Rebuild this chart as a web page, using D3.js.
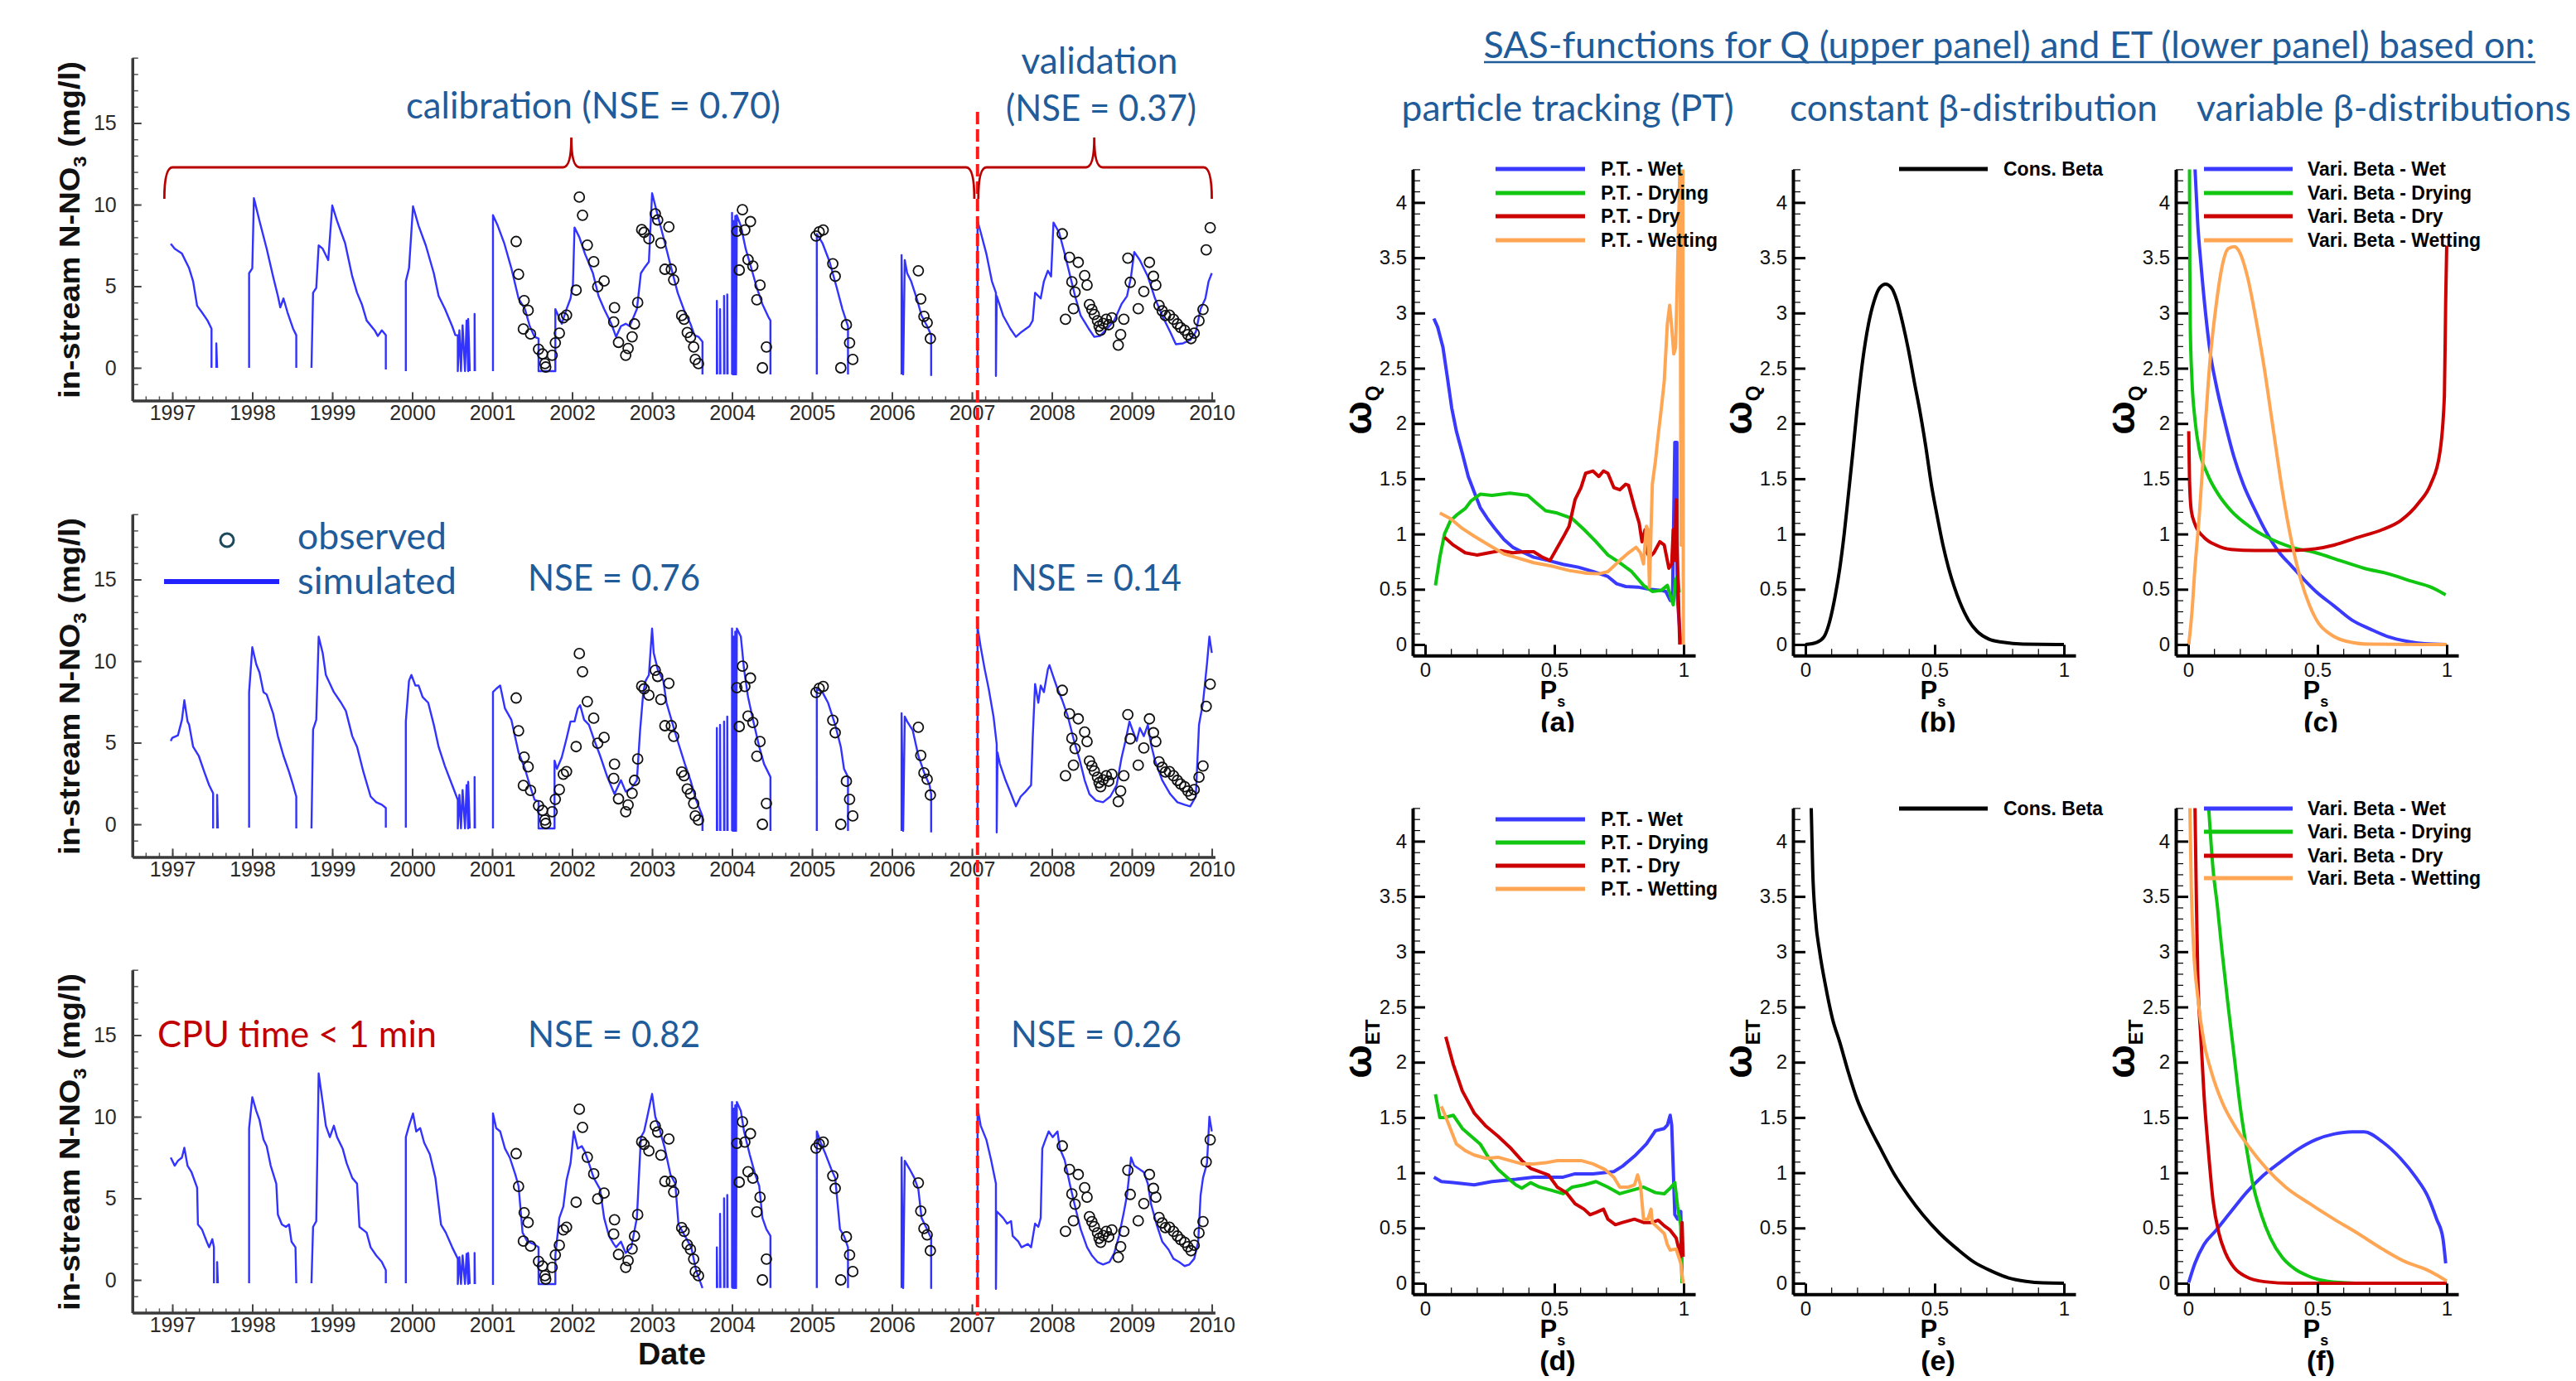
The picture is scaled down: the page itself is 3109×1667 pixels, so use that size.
<!DOCTYPE html>
<html><head><meta charset="utf-8">
<script src="https://cdn.jsdelivr.net/npm/d3@7/dist/d3.min.js"></script>
<style>
html,body{margin:0;padding:0;background:#fff;}
svg{display:block;}
</style></head>
<body>
<svg id="fig" width="3109" height="1667" xmlns="http://www.w3.org/2000/svg"></svg>
<script>
// ---------- Nitrate time series (left column) ----------
const yearTicks = d3.range(1997, 2011);
const concTicks = [0, 5, 10, 15];

// observed in-stream N-NO3 (mg/l): [decimal year, value]
const observed = [
 [2001.30,7.74],[2001.33,5.73],[2001.40,4.12],[2001.45,3.52],[2001.39,2.38],[2001.48,2.07],[2001.58,1.14],[2001.63,0.85],
 [2001.66,0.26],[2001.67,0.05],[2001.75,0.77],[2001.79,1.53],[2001.84,2.13],[2001.89,3.06],[2001.93,3.23],[2002.05,4.76],
 [2002.09,10.46],[2002.13,9.35],[2002.19,7.52],[2002.27,6.50],[2002.32,4.97],[2002.40,5.32],[2002.53,3.69],[2002.52,2.81],
 [2002.58,1.56],[2002.67,0.77],[2002.70,1.19],[2002.75,1.90],[2002.78,2.69],[2002.82,4.00],[2002.87,8.47],[2002.90,8.30],
 [2002.96,7.91],[2003.04,9.44],[2003.07,9.06],[2003.11,7.65],[2003.21,8.64],[2003.16,6.04],[2003.24,6.04],[2003.27,5.39],
 [2003.37,3.20],[2003.40,2.98],[2003.44,2.16],[2003.48,1.87],[2003.52,1.28],[2003.54,0.51],[2003.58,0.26],
 [2004.06,8.37],[2004.09,5.99],[2004.13,9.69],[2004.16,8.45],[2004.23,8.96],[2004.20,6.63],[2004.26,6.24],[2004.35,5.07],
 [2004.31,4.17],[2004.43,1.28],[2004.38,0.0],
 [2005.05,8.08],[2005.09,8.33],[2005.14,8.45],[2005.26,6.38],[2005.29,5.61],[2005.43,2.64],[2005.47,1.53],[2005.51,0.51],[2005.36,0.0],
 [2006.33,5.95],[2006.36,4.22],[2006.40,3.15],[2006.44,2.76],[2006.48,1.79],
 [2008.13,8.21],[2008.17,2.98],[2008.22,6.77],[2008.25,5.27],[2008.29,4.64],[2008.27,3.62],[2008.33,6.46],[2008.41,5.65],
 [2008.44,5.07],[2008.47,3.88],[2008.50,3.57],[2008.53,3.27],[2008.57,2.89],[2008.59,2.55],[2008.61,2.30],[2008.64,2.72],
 [2008.68,2.98],[2008.71,2.64],[2008.75,3.06],[2008.83,1.39],[2008.86,2.04],[2008.90,2.98],[2008.95,6.72],[2008.98,5.24],
 [2009.08,3.62],[2009.15,4.68],[2009.22,6.46],[2009.27,5.61],[2009.30,5.07],[2009.34,3.83],[2009.38,3.49],[2009.42,3.20],
 [2009.47,3.23],[2009.52,2.98],[2009.57,2.69],[2009.61,2.47],[2009.66,2.30],[2009.70,2.04],[2009.74,1.79],[2009.78,2.13],
 [2009.84,2.89],[2009.89,3.57],[2009.93,7.23],[2009.98,8.59]
];

// simulated series, null marks a gap (dry stream)
const simTop = [
 [1996.98,7.6],[1997.03,7.3],[1997.12,7.0],[1997.21,6.1],[1997.26,5.3],[1997.31,3.8],[1997.37,3.4],[1997.44,2.9],[1997.49,2.4],[1997.49,0],null,
 [1997.55,0],[1997.55,1.5],[1997.56,0],null,
 [1997.96,0],[1997.96,5.8],[1998.00,6.1],[1998.02,10.4],[1998.09,9.0],[1998.18,7.3],[1998.26,5.6],[1998.32,4.4],[1998.35,3.7],[1998.39,4.25],[1998.44,3.4],[1998.51,2.4],[1998.55,2.0],[1998.55,0],null,
 [1998.74,0],[1998.76,4.6],[1998.80,4.9],[1998.83,7.5],[1998.88,7.3],[1998.95,6.6],[1999.00,9.95],[1999.06,9.0],[1999.16,7.65],[1999.25,5.6],[1999.31,4.6],[1999.37,3.9],[1999.43,2.9],[1999.53,2.3],[1999.57,1.95],[1999.62,2.3],[1999.67,2.0],[1999.67,-0.1],null,
 [1999.92,-0.2],[1999.92,5.3],[1999.96,6.1],[2000.01,9.9],[2000.08,8.7],[2000.17,7.5],[2000.27,5.8],[2000.33,4.4],[2000.41,3.6],[2000.50,2.55],[2000.54,2.0],[2000.57,2.0],[2000.57,-0.2],[2000.59,2.3],[2000.61,-0.2],[2000.63,2.6],[2000.66,-0.2],[2000.68,2.9],[2000.70,-0.2],[2000.70,3.0],[2000.72,-0.2],null,
 [2000.78,-0.2],[2000.78,3.3],[2000.785,-0.2],null,
 [2001.01,-0.2],[2001.01,9.35],[2001.07,8.7],[2001.15,7.65],[2001.24,6.1],[2001.33,4.25],[2001.41,3.6],[2001.47,2.55],[2001.53,1.9],[2001.58,1.8],[2001.58,-0.2],[2001.79,-0.2],[2001.79,3.6],[2001.87,2.7],[2001.93,3.6],[2001.98,4.25],[2002.01,5.1],[2002.03,8.6],[2002.09,8.0],[2002.16,7.0],[2002.26,5.8],[2002.33,4.4],[2002.40,3.6],[2002.49,2.7],[2002.55,1.9],[2002.61,2.55],[2002.67,2.7],[2002.72,2.55],[2002.81,3.6],[2002.86,5.8],[2002.90,6.1],[2002.96,6.5],[2003.00,10.7],[2003.07,9.35],[2003.16,7.65],[2003.24,6.1],[2003.32,4.6],[2003.41,3.4],[2003.48,2.7],[2003.53,2.0],[2003.58,1.9],[2003.63,1.6],[2003.63,-0.4],null,
 [2003.81,-0.4],[2003.81,4.1],[2003.815,-0.4],null,[2003.85,-0.4],[2003.85,3.6],[2003.855,-0.4],null,[2003.90,-0.4],[2003.90,4.4],[2003.905,-0.4],null,[2003.94,-0.4],[2003.94,4.5],[2003.945,-0.4],null,
 [2004.00,-0.4],[2004.00,9.5],[2004.01,-0.4],[2004.02,9.0],[2004.03,-0.4],[2004.04,9.3],[2004.05,-0.4],[2004.06,9.35],[2004.11,8.7],[2004.17,7.3],[2004.25,5.95],[2004.31,4.9],[2004.38,3.9],[2004.46,3.06],[2004.48,2.9],[2004.48,-0.4],null,
 [2005.06,-0.4],[2005.06,8.2],[2005.13,7.65],[2005.22,6.5],[2005.31,4.9],[2005.38,3.6],[2005.45,2.55],[2005.45,-0.4],null,
 [2006.12,-0.4],[2006.12,6.9],[2006.14,-0.4],[2006.16,6.6],[2006.19,5.8],[2006.24,5.3],[2006.31,4.25],[2006.37,3.2],[2006.44,2.55],[2006.49,2.0],[2006.49,-0.5],null,
 [2007.07,-0.5],[2007.07,9.0],[2007.11,8.3],[2007.18,7.0],[2007.25,5.3],[2007.30,4.6],[2007.30,-0.5],[2007.31,4.4],[2007.39,3.2],[2007.48,2.4],[2007.55,1.9],[2007.62,2.2],[2007.72,2.55],[2007.76,2.9],[2007.79,4.6],[2007.86,4.25],[2007.90,5.3],[2007.95,5.95],[2007.99,5.6],[2008.02,8.9],[2008.09,8.3],[2008.16,7.0],[2008.23,5.6],[2008.29,4.4],[2008.36,3.2],[2008.46,2.4],[2008.53,1.9],[2008.60,1.95],[2008.69,2.4],[2008.78,2.9],[2008.87,3.9],[2008.94,4.4],[2008.99,5.6],[2009.03,7.1],[2009.10,6.6],[2009.20,5.6],[2009.29,4.25],[2009.38,3.2],[2009.48,2.2],[2009.55,1.45],[2009.64,1.5],[2009.73,1.7],[2009.80,2.2],[2009.86,3.6],[2009.92,4.25],[2009.96,5.3],[2010.00,5.8]
];

const simMid = [
 [1996.98,5.1],[1997.00,5.3],[1997.07,5.45],[1997.12,6.4],[1997.15,7.6],[1997.19,6.3],[1997.21,6.1],[1997.26,4.75],[1997.33,4.2],[1997.40,3.2],[1997.46,2.4],[1997.51,1.9],[1997.51,-0.25],null,
 [1997.56,-0.25],[1997.56,1.8],[1997.57,-0.25],null,
 [1997.96,-0.2],[1997.96,8.1],[1998.00,10.85],[1998.05,9.8],[1998.09,9.3],[1998.14,8.1],[1998.18,7.95],[1998.26,6.8],[1998.32,5.4],[1998.39,4.2],[1998.46,3.2],[1998.51,2.4],[1998.55,1.7],[1998.55,-0.25],null,
 [1998.74,-0.25],[1998.76,5.8],[1998.80,6.4],[1998.83,11.5],[1998.88,10.5],[1998.92,9.15],[1999.02,8.1],[1999.11,7.45],[1999.17,6.95],[1999.25,5.4],[1999.31,4.75],[1999.39,3.2],[1999.48,1.7],[1999.55,1.35],[1999.62,1.2],[1999.67,1.0],[1999.67,-0.2],null,
 [1999.92,-0.2],[1999.92,6.3],[1999.96,8.8],[1999.99,9.15],[2000.04,8.5],[2000.08,8.5],[2000.13,7.8],[2000.20,7.45],[2000.27,6.1],[2000.33,4.75],[2000.41,3.55],[2000.50,2.4],[2000.57,1.5],[2000.57,-0.25],[2000.59,1.8],[2000.61,-0.25],[2000.63,2.1],[2000.66,-0.25],[2000.68,2.4],[2000.70,-0.25],[2000.70,2.6],[2000.72,-0.25],null,
 [2000.78,-0.25],[2000.78,2.9],[2000.785,-0.25],null,
 [2001.01,-0.25],[2001.01,8.1],[2001.05,8.3],[2001.10,8.5],[2001.16,7.1],[2001.24,6.4],[2001.33,4.4],[2001.41,3.4],[2001.47,2.4],[2001.53,1.5],[2001.58,1.4],[2001.58,-0.25],[2001.78,-0.25],[2001.78,3.9],[2001.81,3.4],[2001.87,4.1],[2001.93,5.25],[2001.98,6.3],[2002.03,6.3],[2002.07,7.1],[2002.10,7.3],[2002.15,6.4],[2002.21,6.1],[2002.27,5.25],[2002.35,4.2],[2002.44,2.9],[2002.53,1.85],[2002.61,2.7],[2002.67,2.0],[2002.74,2.2],[2002.81,2.7],[2002.85,5.75],[2002.89,8.1],[2002.92,8.8],[2002.96,9.15],[2003.00,12.0],[2003.02,10.5],[2003.07,9.5],[2003.14,8.8],[2003.18,7.45],[2003.26,6.1],[2003.32,5.1],[2003.41,3.7],[2003.48,2.7],[2003.55,1.5],[2003.63,0.5],[2003.63,-0.4],null,
 [2003.81,-0.4],[2003.81,5.9],[2003.815,-0.4],null,[2003.85,-0.4],[2003.85,6.1],[2003.855,-0.4],null,[2003.90,-0.4],[2003.90,6.3],[2003.905,-0.4],null,[2003.94,-0.4],[2003.94,6.6],[2003.945,-0.4],null,
 [2004.00,-0.4],[2004.00,12.0],[2004.01,-0.4],[2004.02,11.5],[2004.03,-0.4],[2004.04,11.8],[2004.05,-0.4],[2004.06,12.0],[2004.11,11.5],[2004.15,9.5],[2004.20,7.8],[2004.26,6.45],[2004.34,4.75],[2004.40,3.7],[2004.48,2.9],[2004.48,-0.4],null,
 [2005.06,-0.4],[2005.06,8.3],[2005.13,8.1],[2005.20,7.45],[2005.29,6.1],[2005.36,4.75],[2005.40,3.4],[2005.45,2.9],[2005.45,-0.4],null,
 [2006.12,-0.4],[2006.12,6.8],[2006.14,-0.4],[2006.16,6.6],[2006.19,6.3],[2006.26,5.75],[2006.33,4.2],[2006.40,3.2],[2006.47,2.4],[2006.49,1.85],[2006.49,-0.5],null,
 [2007.07,-0.5],[2007.07,12.1],[2007.11,10.85],[2007.16,9.5],[2007.21,8.3],[2007.27,6.6],[2007.31,4.9],[2007.31,-0.5],[2007.32,4.4],[2007.35,3.7],[2007.42,2.7],[2007.49,1.85],[2007.55,1.1],[2007.61,1.7],[2007.67,2.0],[2007.74,2.4],[2007.76,5.25],[2007.79,8.6],[2007.83,7.45],[2007.86,8.5],[2007.90,8.1],[2007.95,9.5],[2007.97,9.75],[2008.01,9.15],[2008.07,8.3],[2008.13,7.6],[2008.20,6.6],[2008.27,5.25],[2008.35,3.9],[2008.41,2.7],[2008.47,1.85],[2008.55,1.45],[2008.64,1.35],[2008.73,1.7],[2008.81,2.4],[2008.87,4.05],[2008.92,5.1],[2008.97,6.3],[2009.01,5.75],[2009.06,5.1],[2009.10,5.9],[2009.15,5.4],[2009.20,6.1],[2009.24,4.9],[2009.29,3.9],[2009.38,2.7],[2009.48,1.85],[2009.57,1.35],[2009.66,1.2],[2009.73,1.1],[2009.80,1.7],[2009.84,6.1],[2009.89,7.45],[2009.94,9.85],[2009.97,11.5],[2010.00,10.5]
];

const simBot = [
 [1996.98,7.5],[1997.03,7.0],[1997.07,7.3],[1997.12,7.5],[1997.15,8.1],[1997.19,7.0],[1997.24,6.6],[1997.31,5.65],[1997.32,3.4],[1997.37,3.1],[1997.43,2.35],[1997.46,2.0],[1997.50,2.5],[1997.52,2.0],[1997.52,-0.2],null,
 [1997.56,-0.2],[1997.56,1.1],[1997.57,-0.2],null,
 [1997.96,-0.2],[1997.96,9.3],[1998.00,11.2],[1998.05,10.35],[1998.09,9.8],[1998.14,8.6],[1998.18,8.2],[1998.23,7.0],[1998.30,5.9],[1998.32,4.0],[1998.37,3.4],[1998.42,3.25],[1998.46,3.4],[1998.49,2.35],[1998.54,2.0],[1998.55,-0.2],null,
 [1998.74,-0.2],[1998.76,3.25],[1998.80,3.6],[1998.83,12.65],[1998.88,10.9],[1998.92,9.45],[1998.97,8.75],[1999.02,9.45],[1999.06,8.75],[1999.13,8.05],[1999.18,7.15],[1999.25,6.25],[1999.31,5.9],[1999.34,3.25],[1999.43,2.9],[1999.48,2.0],[1999.55,1.5],[1999.62,1.1],[1999.67,0.6],[1999.67,-0.2],null,
 [1999.92,-0.2],[1999.92,8.75],[1999.96,9.45],[2000.01,10.2],[2000.05,9.1],[2000.10,9.3],[2000.15,8.4],[2000.22,7.7],[2000.29,6.25],[2000.36,3.4],[2000.42,2.9],[2000.50,2.0],[2000.57,1.3],[2000.57,-0.25],[2000.59,1.4],[2000.61,-0.25],[2000.63,1.5],[2000.66,-0.25],[2000.68,1.6],[2000.70,-0.25],[2000.70,1.65],[2000.72,-0.25],null,
 [2000.78,-0.25],[2000.78,1.65],[2000.785,-0.25],null,
 [2001.01,-0.3],[2001.01,10.2],[2001.05,9.3],[2001.10,9.1],[2001.16,8.05],[2001.22,7.5],[2001.29,6.45],[2001.33,5.75],[2001.38,2.9],[2001.44,2.35],[2001.52,2.2],[2001.58,2.0],[2001.58,-0.25],[2001.79,-0.25],[2001.79,1.5],[2001.84,3.8],[2001.89,4.5],[2001.93,6.1],[2001.98,7.15],[2002.02,9.1],[2002.07,8.05],[2002.12,8.2],[2002.16,7.85],[2002.21,7.15],[2002.27,6.25],[2002.35,5.55],[2002.40,3.8],[2002.46,2.7],[2002.52,2.2],[2002.55,2.0],[2002.61,2.35],[2002.67,1.65],[2002.74,2.0],[2002.81,3.8],[2002.86,8.75],[2002.90,9.1],[2002.94,10.0],[2003.00,11.4],[2003.04,10.0],[2003.09,9.3],[2003.16,8.05],[2003.23,6.45],[2003.29,5.9],[2003.33,3.4],[2003.41,2.7],[2003.49,2.0],[2003.55,0.6],[2003.63,-0.5],null,
 [2003.81,-0.5],[2003.81,2.0],[2003.815,-0.5],null,[2003.85,-0.5],[2003.85,4.05],[2003.855,-0.5],null,[2003.90,-0.5],[2003.90,5.0],[2003.905,-0.5],null,[2003.94,-0.5],[2003.94,5.2],[2003.945,-0.5],null,
 [2004.00,-0.5],[2004.00,10.9],[2004.01,-0.5],[2004.02,10.5],[2004.03,-0.5],[2004.04,10.7],[2004.05,-0.5],[2004.06,10.9],[2004.11,10.35],[2004.15,9.1],[2004.22,7.7],[2004.29,6.45],[2004.34,5.75],[2004.38,3.8],[2004.43,3.1],[2004.48,2.7],[2004.48,-0.5],null,
 [2005.06,-0.5],[2005.06,9.1],[2005.11,8.4],[2005.17,7.7],[2005.24,6.8],[2005.29,6.25],[2005.35,3.1],[2005.40,2.7],[2005.45,2.0],[2005.45,-0.5],null,
 [2006.12,-0.5],[2006.12,7.5],[2006.14,-0.5],[2006.16,7.3],[2006.22,6.8],[2006.28,6.25],[2006.33,5.55],[2006.37,3.8],[2006.44,3.1],[2006.49,2.55],[2006.49,-0.55],null,
 [2007.07,-0.55],[2007.07,10.55],[2007.11,9.45],[2007.18,8.6],[2007.24,7.35],[2007.30,5.9],[2007.30,-0.55],[2007.31,4.2],[2007.35,4.0],[2007.39,3.8],[2007.44,3.45],[2007.49,3.6],[2007.51,2.7],[2007.58,2.35],[2007.62,2.0],[2007.70,2.2],[2007.74,2.0],[2007.79,3.45],[2007.83,3.25],[2007.86,3.8],[2007.88,8.05],[2007.92,8.6],[2007.96,9.1],[2008.01,8.75],[2008.07,9.1],[2008.10,8.05],[2008.16,7.35],[2008.23,5.75],[2008.29,4.5],[2008.36,3.1],[2008.44,2.0],[2008.50,1.5],[2008.57,1.1],[2008.64,0.95],[2008.72,1.1],[2008.78,1.65],[2008.84,2.7],[2008.90,4.15],[2008.94,5.2],[2008.99,7.5],[2009.03,7.0],[2009.09,6.8],[2009.15,6.6],[2009.20,5.9],[2009.24,4.65],[2009.31,3.4],[2009.38,2.35],[2009.46,1.85],[2009.52,1.3],[2009.59,1.1],[2009.66,0.85],[2009.72,0.95],[2009.78,1.3],[2009.83,2.35],[2009.86,5.2],[2009.89,6.25],[2009.94,7.15],[2009.97,10.0],[2010.00,9.1]
];

const nseCalibration = ["0.70", "0.76", "0.82"];
const nseValidation = ["0.37", "0.14", "0.26"];
const splitYear = 2007.07;   // start of the validation period

// ---------- SAS functions (right block) ----------
const psTicks = [0, 0.5, 1];
const omegaTicks = d3.range(0, 4.01, 0.5);

const ptQWet = [[0.034,2.95],[0.049,2.87],[0.069,2.69],[0.086,2.42],[0.103,2.14],[0.121,1.93],[0.144,1.73],[0.167,1.52],[0.19,1.38],[0.213,1.24],[0.241,1.14],[0.27,1.05],[0.305,0.95],[0.339,0.88],[0.374,0.84],[0.42,0.79],[0.477,0.76],[0.534,0.725],[0.592,0.70],[0.65,0.66],[0.707,0.615],[0.741,0.55],[0.776,0.525],[0.822,0.52],[0.868,0.50],[0.914,0.49],[0.931,0.48],[0.948,0.40],[0.957,0.41],[0.966,1.83],[0.974,1.83],[0.975,0.45],[0.989,0]];
const ptQDrying = [[0.04,0.535],[0.057,0.79],[0.075,1.0],[0.098,1.12],[0.121,1.17],[0.155,1.23],[0.178,1.30],[0.213,1.36],[0.259,1.35],[0.328,1.37],[0.397,1.35],[0.431,1.28],[0.466,1.21],[0.511,1.19],[0.569,1.14],[0.615,1.04],[0.661,0.93],[0.707,0.81],[0.753,0.74],[0.799,0.66],[0.845,0.535],[0.879,0.48],[0.914,0.49],[0.937,0.535],[0.954,0.40],[0.96,0.36],[0.969,0.59],[0.977,0.62],[0.983,0.47]];
const ptQDry = [[0.075,0.97],[0.109,0.90],[0.155,0.83],[0.201,0.81],[0.247,0.83],[0.293,0.85],[0.339,0.83],[0.385,0.84],[0.42,0.84],[0.454,0.79],[0.483,0.76],[0.5,0.83],[0.534,0.97],[0.557,1.07],[0.58,1.31],[0.603,1.42],[0.621,1.55],[0.649,1.57],[0.672,1.52],[0.69,1.57],[0.707,1.55],[0.73,1.42],[0.753,1.40],[0.776,1.45],[0.787,1.44],[0.81,1.24],[0.828,1.10],[0.839,0.93],[0.851,1.04],[0.859,0.83],[0.868,0.79],[0.885,0.83],[0.908,0.93],[0.925,0.90],[0.943,0.69],[0.954,0.73],[0.96,1.04],[0.966,0.76],[0.971,1.31],[0.977,0.69],[0.985,0]];
const ptQWetting = [[0.057,1.19],[0.098,1.14],[0.144,1.05],[0.19,0.98],[0.247,0.90],[0.305,0.82],[0.362,0.78],[0.42,0.74],[0.489,0.71],[0.557,0.67],[0.626,0.645],[0.672,0.64],[0.707,0.66],[0.753,0.76],[0.787,0.83],[0.816,0.88],[0.833,0.83],[0.845,0.73],[0.856,1.07],[0.862,1.04],[0.868,0.52],[0.874,1.04],[0.879,1.45],[0.891,1.66],[0.902,1.90],[0.914,2.14],[0.925,2.38],[0.937,2.90],[0.946,3.07],[0.954,2.87],[0.962,2.63],[0.969,2.69],[0.977,3.45],[0.983,4.04],[0.986,4.4],[0.99,0.9],[0.993,4.4],[0.997,4.4],[0.999,0]];

const consBetaQ = [[0,0],[0.044,0.02],[0.072,0.07],[0.094,0.21],[0.116,0.45],[0.133,0.69],[0.15,1.0],[0.166,1.35],[0.183,1.73],[0.199,2.11],[0.221,2.56],[0.244,2.90],[0.266,3.11],[0.288,3.23],[0.31,3.26],[0.332,3.23],[0.354,3.11],[0.377,2.90],[0.399,2.66],[0.421,2.38],[0.443,2.11],[0.465,1.80],[0.487,1.45],[0.509,1.17],[0.532,0.90],[0.554,0.69],[0.576,0.52],[0.598,0.38],[0.631,0.22],[0.664,0.12],[0.709,0.05],[0.764,0.02],[0.842,0.003],[1,0]];

const vbQWet = [[0.026,4.32],[0.037,3.8],[0.049,3.45],[0.067,3.0],[0.084,2.66],[0.108,2.35],[0.143,2.0],[0.178,1.69],[0.213,1.45],[0.26,1.21],[0.306,1.0],[0.353,0.83],[0.4,0.71],[0.447,0.59],[0.494,0.48],[0.564,0.35],[0.634,0.22],[0.704,0.14],[0.774,0.07],[0.844,0.03],[0.915,0.007],[1,0]];
const vbQDrying = [[0.005,4.32],[0.006,3.45],[0.008,2.87],[0.014,2.42],[0.026,2.04],[0.043,1.76],[0.073,1.55],[0.119,1.35],[0.166,1.21],[0.236,1.07],[0.306,0.97],[0.4,0.88],[0.494,0.83],[0.587,0.76],[0.681,0.69],[0.774,0.64],[0.868,0.57],[0.938,0.52],[0.973,0.48],[0.996,0.45]];
const vbQDry = [[0.002,1.93],[0.005,1.49],[0.012,1.21],[0.026,1.09],[0.061,0.97],[0.108,0.90],[0.166,0.86],[0.26,0.85],[0.377,0.85],[0.47,0.86],[0.564,0.90],[0.657,0.97],[0.751,1.04],[0.821,1.12],[0.891,1.28],[0.938,1.45],[0.973,1.73],[0.991,2.25],[0.996,3.11],[1.0,3.61]];
const vbQWetting = [[0.002,0],[0.014,0.28],[0.026,0.69],[0.043,1.17],[0.061,1.80],[0.084,2.56],[0.108,3.07],[0.131,3.42],[0.154,3.58],[0.178,3.60],[0.201,3.54],[0.23,3.32],[0.26,2.97],[0.295,2.49],[0.33,1.93],[0.365,1.38],[0.4,0.93],[0.435,0.59],[0.47,0.35],[0.505,0.19],[0.552,0.09],[0.611,0.03],[0.704,0.003],[1,0]];

const ptETWet = [[0.034,0.96],[0.063,0.92],[0.109,0.91],[0.19,0.89],[0.259,0.92],[0.351,0.94],[0.42,0.96],[0.477,0.96],[0.534,0.96],[0.58,0.99],[0.649,0.99],[0.73,1.01],[0.764,1.06],[0.81,1.15],[0.856,1.26],[0.891,1.38],[0.925,1.40],[0.937,1.43],[0.948,1.52],[0.954,1.43],[0.96,1.03],[0.966,0.62],[0.977,0.58],[0.989,0.65],[0.994,0]];
const ptETDrying = [[0.04,1.71],[0.057,1.50],[0.075,1.50],[0.109,1.52],[0.144,1.40],[0.178,1.33],[0.213,1.26],[0.247,1.13],[0.282,1.03],[0.316,0.96],[0.351,0.89],[0.374,0.86],[0.408,0.91],[0.443,0.87],[0.489,0.84],[0.534,0.81],[0.569,0.87],[0.615,0.89],[0.661,0.92],[0.707,0.87],[0.753,0.81],[0.799,0.84],[0.845,0.87],[0.891,0.82],[0.925,0.81],[0.948,0.86],[0.966,0.91],[0.977,0.69],[0.989,0.52],[0.994,0]];
const ptETDry = [[0.08,2.23],[0.109,1.98],[0.144,1.74],[0.19,1.54],[0.236,1.42],[0.282,1.33],[0.328,1.23],[0.374,1.11],[0.408,1.04],[0.443,1.01],[0.477,0.98],[0.511,0.87],[0.546,0.82],[0.58,0.72],[0.615,0.67],[0.638,0.62],[0.661,0.64],[0.69,0.67],[0.707,0.58],[0.736,0.53],[0.764,0.55],[0.81,0.58],[0.845,0.55],[0.879,0.55],[0.902,0.57],[0.925,0.52],[0.948,0.48],[0.971,0.41],[0.989,0.24],[0.994,0.55],[0.998,0.24]];
const ptETWetting = [[0.063,1.60],[0.086,1.47],[0.121,1.26],[0.155,1.20],[0.19,1.16],[0.236,1.13],[0.282,1.14],[0.328,1.11],[0.374,1.08],[0.42,1.08],[0.466,1.09],[0.511,1.11],[0.557,1.11],[0.603,1.11],[0.649,1.08],[0.695,1.03],[0.73,0.96],[0.753,0.87],[0.787,0.87],[0.81,0.89],[0.822,0.98],[0.833,0.89],[0.845,0.58],[0.862,0.58],[0.874,0.67],[0.879,0.55],[0.902,0.50],[0.925,0.45],[0.937,0.35],[0.948,0.30],[0.971,0.31],[0.989,0.18],[0.998,0]];

const consBetaET = [[0.022,4.35],[0.028,3.75],[0.039,3.30],[0.055,3.0],[0.078,2.69],[0.105,2.39],[0.133,2.18],[0.166,1.91],[0.199,1.67],[0.244,1.43],[0.288,1.23],[0.343,0.99],[0.399,0.79],[0.454,0.62],[0.52,0.45],[0.587,0.31],[0.653,0.19],[0.72,0.11],[0.786,0.048],[0.853,0.017],[0.919,0.003],[1,0]];

const vbETWet = [[0.002,0.007],[0.026,0.18],[0.061,0.35],[0.108,0.48],[0.166,0.65],[0.225,0.82],[0.283,0.96],[0.353,1.09],[0.423,1.21],[0.494,1.30],[0.564,1.35],[0.634,1.37],[0.681,1.37],[0.751,1.28],[0.821,1.13],[0.88,0.96],[0.926,0.79],[0.961,0.58],[0.985,0.41],[0.996,0.18]];
const vbETDrying = [[0.078,4.35],[0.096,3.75],[0.113,3.41],[0.131,3.0],[0.154,2.52],[0.178,2.05],[0.201,1.60],[0.225,1.23],[0.248,0.92],[0.283,0.62],[0.318,0.41],[0.365,0.23],[0.412,0.13],[0.47,0.06],[0.54,0.017],[0.646,0]];
const vbETDry = [[0.026,4.35],[0.032,3.41],[0.037,2.79],[0.049,2.22],[0.061,1.71],[0.078,1.20],[0.096,0.75],[0.119,0.45],[0.143,0.28],[0.178,0.14],[0.225,0.058],[0.295,0.014],[0.4,0],[1,0]];
const vbETWetting = [[0.006,4.35],[0.012,3.58],[0.02,3.07],[0.037,2.59],[0.061,2.18],[0.09,1.91],[0.131,1.64],[0.178,1.43],[0.236,1.23],[0.306,1.03],[0.377,0.87],[0.47,0.72],[0.564,0.58],[0.657,0.45],[0.751,0.31],[0.844,0.19],[0.915,0.13],[0.961,0.075],[1,0.02]];

// ---------- drawing ----------
const svg = d3.select('#fig');
const BLUE_TXT = '#1f5c99', RED_TXT = '#c00000';
const SANS = "'Liberation Sans', Arial, sans-serif";
const CAL = "Lato, 'Open Sans', sans-serif";

function fitText(parent, x, y, str, opts) {
  return parent.append('text')
    .attr('x', x).attr('y', y)
    .attr('font-family', opts.family || CAL)
    .attr('font-size', opts.size || 44)
    .attr('fill', opts.fill || BLUE_TXT)
    .attr('text-anchor', opts.anchor || 'start')
    .attr('textLength', opts.width)
    .attr('lengthAdjust', 'spacingAndGlyphs')
    .text(str);
}

// time axis shared by the three stacked panels
const xT = d3.scaleLinear().domain([1996.5, 2010.04]).range([159.75, 1466.4]);
const PXU = 19.7;
const leftPanels = [
  {zero: 444, sim: simTop},
  {zero: 995, sim: simMid},
  {zero: 1545, sim: simBot}
];

leftPanels.forEach((p, i) => {
  const y = d3.scaleLinear().domain([-2, 19]).range([p.zero + 2 * PXU, p.zero - 19 * PXU]);
  const g = svg.append('g');
  const axX = xT(1996.5), axY = y(-2);

  // minor ticks
  g.append('g').attr('transform', `translate(${axX},0)`)
    .call(d3.axisLeft(y).tickValues(d3.range(-2, 20)).tickSize(-7).tickSizeOuter(0).tickFormat(''))
    .call(s => s.select('.domain').remove())
    .selectAll('line').attr('stroke', '#555').attr('stroke-width', 1.5);
  g.append('g').attr('transform', `translate(0,${axY})`)
    .call(d3.axisBottom(xT).tickValues(d3.range(1996.5, 2010.05, 1 / 6)).tickSize(-5).tickSizeOuter(0).tickFormat(''))
    .call(s => s.select('.domain').remove())
    .selectAll('line').attr('stroke', '#555').attr('stroke-width', 1.5);

  // major ticks + labels
  const ya = g.append('g').attr('transform', `translate(${axX},0)`)
    .call(d3.axisLeft(y).tickValues(concTicks).tickSize(-11).tickSizeOuter(0).tickPadding(19));
  const xa = g.append('g').attr('transform', `translate(0,${axY})`)
    .call(d3.axisBottom(xT).tickValues(yearTicks).tickSize(-10).tickSizeOuter(0).tickPadding(6).tickFormat(d3.format('d')));
  [ya, xa].forEach(a => {
    a.attr('font-family', SANS).attr('font-size', 25);
    a.select('.domain').attr('stroke', '#3a3a3a').attr('stroke-width', 3.5);
    a.selectAll('.tick line').attr('stroke', '#444').attr('stroke-width', 2);
    a.selectAll('.tick text').attr('fill', '#2a2a2a');
  });

  // simulated concentration
  const line = d3.line().defined(d => d !== null).x(d => xT(d[0])).y(d => y(d[1]));
  g.append('path').datum(p.sim).attr('d', line)
    .attr('fill', 'none').attr('stroke', '#3333ff').attr('stroke-width', 2.4).attr('stroke-linejoin', 'round');

  // observed concentration
  g.append('g').selectAll('circle').data(observed).join('circle')
    .attr('cx', d => xT(d[0])).attr('cy', d => y(d[1])).attr('r', 6)
    .attr('fill', 'none').attr('stroke', '#111').attr('stroke-width', 1.8);

  // y-axis title
  const yl = g.append('g').attr('transform', `translate(96,${(y(-2) + y(19)) / 2 + 1}) rotate(-90)`);
  const t = yl.append('text').attr('text-anchor', 'middle').attr('font-family', SANS)
    .attr('font-weight', 'bold').attr('font-size', 35).attr('fill', '#111')
    .attr('textLength', 407).attr('lengthAdjust', 'spacingAndGlyphs');
  t.append('tspan').text('in-stream N-NO');
  t.append('tspan').attr('font-size', 22).attr('dy', 8).text('3');
  t.append('tspan').attr('dy', -8).text(' (mg/l)');
});

// validation split line
svg.append('line')
  .attr('x1', xT(splitYear)).attr('x2', xT(splitYear))
  .attr('y1', 135).attr('y2', 1588)
  .attr('stroke', '#ff1a1a').attr('stroke-width', 4).attr('stroke-dasharray', '15,6');

// period braces
function brace(x1, x2, mid) {
  const yH = 202, yE = 240, yC = 166;
  return `M${x1},${yE} Q${x1},${yH} ${x1 + 10},${yH} L${mid - 10},${yH} Q${mid},${yH} ${mid},${yC} ` +
         `Q${mid},${yH} ${mid + 10},${yH} L${x2 - 10},${yH} Q${x2},${yH} ${x2},${yE}`;
}
svg.append('path').attr('d', brace(xT(1996.9), xT(2007.03), xT(2001.99)))
  .attr('fill', 'none').attr('stroke', '#b80000').attr('stroke-width', 2.8);
svg.append('path').attr('d', brace(xT(2007.08), xT(2010.0), xT(2008.53)))
  .attr('fill', 'none').attr('stroke', '#b80000').attr('stroke-width', 2.8);

// annotations
fitText(svg, 716, 143, `calibration (NSE = ${nseCalibration[0]})`, {anchor: 'middle', width: 452});
fitText(svg, 1327, 89, 'validation', {anchor: 'middle', width: 189});
fitText(svg, 1329, 146, `(NSE = ${nseValidation[0]})`, {anchor: 'middle', width: 230});
fitText(svg, 637, 713, `NSE = ${nseCalibration[1]}`, {width: 208});
fitText(svg, 1220, 713, `NSE = ${nseValidation[1]}`, {width: 206});
fitText(svg, 190, 1264, 'CPU time < 1 min', {width: 337, fill: RED_TXT});
fitText(svg, 637, 1264, `NSE = ${nseCalibration[2]}`, {width: 208});
fitText(svg, 1220, 1264, `NSE = ${nseValidation[2]}`, {width: 206});

// legend of the middle panel
svg.append('circle').attr('cx', 274).attr('cy', 652).attr('r', 8)
  .attr('fill', 'none').attr('stroke', '#1c4a5c').attr('stroke-width', 3);
svg.append('line').attr('x1', 198).attr('x2', 337).attr('y1', 702).attr('y2', 702)
  .attr('stroke', '#2222ff').attr('stroke-width', 6);
fitText(svg, 359, 663, 'observed', {width: 180});
fitText(svg, 359, 717, 'simulated', {width: 192});

svg.append('text').attr('x', 811).attr('y', 1647).attr('text-anchor', 'middle')
  .attr('font-family', SANS).attr('font-weight', 'bold').attr('font-size', 36).attr('fill', '#111')
  .attr('textLength', 82).attr('lengthAdjust', 'spacingAndGlyphs').text('Date');

// ---------- SAS panels ----------
fitText(svg, 2425, 70, 'SAS-functions for Q (upper panel) and ET (lower panel) based on:', {anchor: 'middle', width: 1269});
svg.append('line').attr('x1', 1791).attr('x2', 3060).attr('y1', 75).attr('y2', 75)
  .attr('stroke', BLUE_TXT).attr('stroke-width', 2.5);
fitText(svg, 1892, 146, 'particle tracking (PT)', {anchor: 'middle', width: 401});
fitText(svg, 2382, 146, 'constant β-distribution', {anchor: 'middle', width: 444});
fitText(svg, 2877, 146, 'variable β-distributions', {anchor: 'middle', width: 452});

const stateColor = {Wet: '#3a3aff', Drying: '#11c611', Dry: '#cc0000', Wetting: '#ffa654', Cons: '#000'};
const colX = [1705, 2164, 2626];
const rowZero = [778, 1549];
const WPX = 133.4, PPX = 312;

const sasPanels = [
  {col: 0, row: 0, sub: 'Q', tag: '(a)', prefix: 'P.T. - ', smooth: false, leg: [100, 208, 227], legY: [204, 233, 261, 290],
   series: [['Wet', ptQWet], ['Drying', ptQDrying], ['Dry', ptQDry], ['Wetting', ptQWetting]]},
  {col: 1, row: 0, sub: 'Q', tag: '(b)', prefix: '', smooth: true, leg: [128, 235, 254], legY: [204],
   series: [['Cons', consBetaQ]]},
  {col: 2, row: 0, sub: 'Q', tag: '(c)', prefix: 'Vari. Beta - ', smooth: true, leg: [34, 141, 159], legY: [204, 233, 261, 290],
   series: [['Wet', vbQWet], ['Drying', vbQDrying], ['Dry', vbQDry], ['Wetting', vbQWetting]]},
  {col: 0, row: 1, sub: 'ET', tag: '(d)', prefix: 'P.T. - ', smooth: false, leg: [100, 208, 227], legY: [989, 1017, 1045, 1073],
   series: [['Wet', ptETWet], ['Drying', ptETDrying], ['Dry', ptETDry], ['Wetting', ptETWetting]]},
  {col: 1, row: 1, sub: 'ET', tag: '(e)', prefix: '', smooth: true, leg: [128, 235, 254], legY: [976],
   series: [['Cons', consBetaET]]},
  {col: 2, row: 1, sub: 'ET', tag: '(f)', prefix: 'Vari. Beta - ', smooth: true, leg: [34, 141, 159], legY: [976, 1004, 1033, 1060],
   series: [['Wet', vbETWet], ['Drying', vbETDrying], ['Dry', vbETDry], ['Wetting', vbETWetting]]}
];

const defs = svg.append('defs');
// the upper-row panel tags are cut at the bottom, as in the composed figure
defs.append('clipPath').attr('id', 'tagClipTop').append('rect')
  .attr('x', 1600).attr('y', 820).attr('width', 1509).attr('height', 64);

sasPanels.forEach((p, k) => {
  const ax = colX[p.col], z = rowZero[p.row];
  const xs = d3.scaleLinear().domain([-0.048, 1.045]).range([ax, ax + 1.093 * PPX]);
  const ys = d3.scaleLinear().domain([-0.1, 4.3]).range([z + 0.1 * WPX, z - 4.3 * WPX]);
  const g = svg.append('g');

  defs.append('clipPath').attr('id', 'clip' + k).append('rect')
    .attr('x', xs(-0.048)).attr('y', ys(4.3)).attr('width', xs(1.045) - xs(-0.048)).attr('height', ys(-0.1) - ys(4.3));

  // curves
  const line = d3.line().x(d => xs(d[0])).y(d => ys(d[1]))
    .curve(p.smooth ? d3.curveMonotoneX : d3.curveLinear);
  const cg = g.append('g').attr('clip-path', `url(#clip${k})`);
  p.series.forEach(([key, data]) => {
    cg.append('path').datum(data).attr('d', line).attr('fill', 'none')
      .attr('stroke', stateColor[key]).attr('stroke-width', 4).attr('stroke-linejoin', 'round');
  });

  // minor ticks
  g.append('g').attr('transform', `translate(${xs(-0.048)},0)`)
    .call(d3.axisLeft(ys).tickValues(d3.range(-0.1, 4.31, 0.1)).tickSize(-9).tickSizeOuter(0).tickFormat(''))
    .call(s => s.select('.domain').remove())
    .selectAll('line').attr('stroke', '#000').attr('stroke-width', 1.2);
  g.append('g').attr('transform', `translate(0,${ys(-0.1)})`)
    .call(d3.axisBottom(xs).tickValues(d3.range(0, 1.01, 0.1)).tickSize(-8).tickSizeOuter(0).tickFormat(''))
    .call(s => s.select('.domain').remove())
    .selectAll('line').attr('stroke', '#000').attr('stroke-width', 1.2);

  // major ticks + labels
  const ya = g.append('g').attr('transform', `translate(${xs(-0.048)},0)`)
    .call(d3.axisLeft(ys).tickValues(omegaTicks).tickSize(-15).tickSizeOuter(0).tickPadding(7)
      .tickFormat(d => String(+d.toFixed(1))));
  const xa = g.append('g').attr('transform', `translate(0,${ys(-0.1)})`)
    .call(d3.axisBottom(xs).tickValues(psTicks).tickSize(-13).tickSizeOuter(0).tickPadding(9)
      .tickFormat(d => String(d)));
  [ya, xa].forEach(a => {
    a.attr('font-family', SANS).attr('font-size', 24);
    a.select('.domain').attr('stroke', '#000').attr('stroke-width', 4);
    a.selectAll('.tick line').attr('stroke', '#000').attr('stroke-width', 3);
    a.selectAll('.tick text').attr('fill', '#111');
  });

  // axis titles
  const wl = g.append('text')
    .attr('transform', `translate(${ax - 50},${ys(2) - 16}) rotate(-90)`)
    .attr('text-anchor', 'middle').attr('font-family', SANS).attr('font-weight', 'bold')
    .attr('font-size', 48).attr('fill', '#000');
  wl.append('tspan').text('ω');
  wl.append('tspan').attr('font-size', 24).attr('dy', 10).text(p.sub);

  const pl = g.append('text').attr('x', xs(0.5) - 2).attr('y', ys(-0.1) + 53)
    .attr('text-anchor', 'middle').attr('font-family', SANS).attr('font-weight', 'bold')
    .attr('font-size', 31).attr('fill', '#000');
  pl.append('tspan').text('P');
  pl.append('tspan').attr('font-size', 18).attr('dy', 9).text('s');

  const tg = g.append('text').attr('x', xs(0.5) + 4).attr('y', ys(-0.1) + 92)
    .attr('text-anchor', 'middle').attr('font-family', SANS).attr('font-weight', 'bold')
    .attr('font-size', 34).attr('fill', '#000').text(p.tag);
  if (p.row === 0) tg.attr('clip-path', 'url(#tagClipTop)');

  // legend
  p.series.forEach(([key], i) => {
    const ly = p.legY[i];
    g.append('line').attr('x1', ax + p.leg[0]).attr('x2', ax + p.leg[1]).attr('y1', ly).attr('y2', ly)
      .attr('stroke', stateColor[key]).attr('stroke-width', 5);
    g.append('text').attr('x', ax + p.leg[2]).attr('y', ly + 8)
      .attr('font-family', SANS).attr('font-weight', 'bold').attr('font-size', 23).attr('fill', '#000')
      .text(key === 'Cons' ? 'Cons. Beta' : p.prefix + key);
  });
});
</script>
</body></html>
